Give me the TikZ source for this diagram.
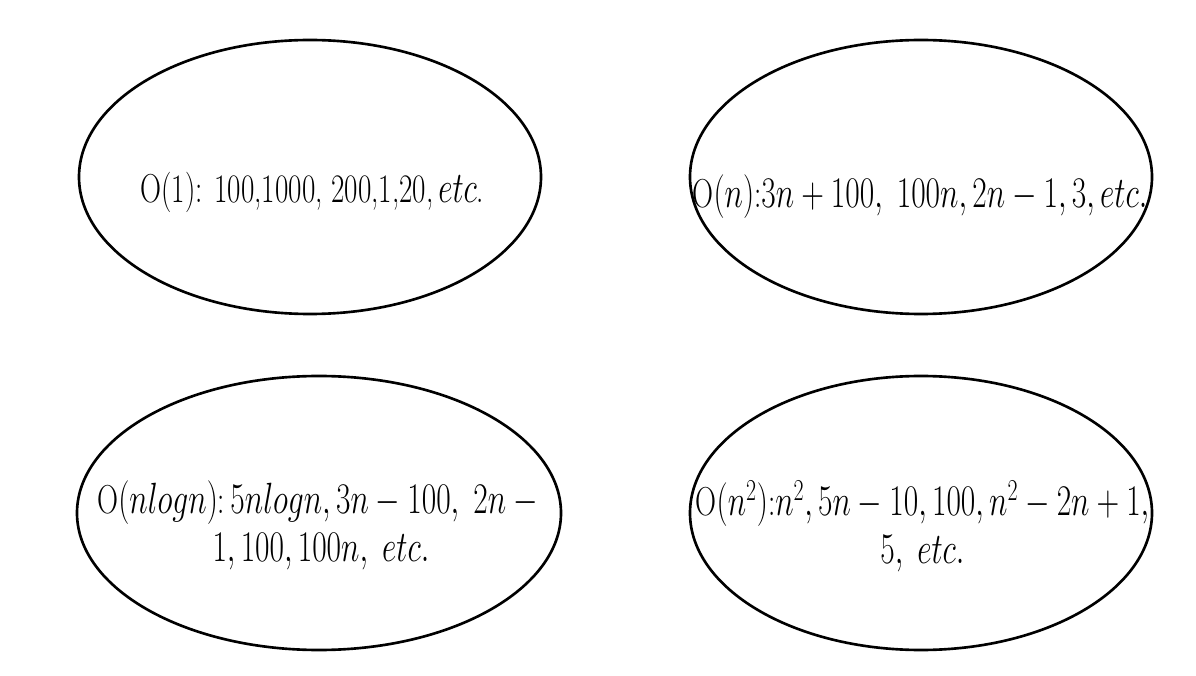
\documentclass[tikz,border=0pt]{standalone}
\usepackage{graphicx}
\usetikzlibrary{shapes.geometric}

\newcommand{\narrow}[1]{\scalebox{0.72}[1]{#1}}

\begin{document}
\begin{tikzpicture}[
            oval/.style={
                ellipse,
                draw,
                line width=1.5pt,
                minimum width=9.24cm,
                minimum height=5.48cm,
                inner sep=0pt
            },
            lbl/.style={
                font=\fontsize{23}{27}\selectfont,
                inner sep=0pt
            }
        ]

            \useasboundingbox (0, 0) rectangle (23.92, 13.5);

            \node[oval] (o1) at (6.2, 9.96) {};
            \node[oval] (o2) at (18.42, 9.96) {};
            \node[oval, minimum width=9.68cm] (o3) at (6.38, 3.24) {};
            \node[oval] (o4) at (18.42, 3.24) {};

            \node[lbl] (t1) at (6.25, 9.66)
                {\narrow{O(1): 100,1000, 200,1,20,\,$etc$.}};
            \node[lbl] (t2) at (18.4, 9.56)
                {\narrow{O$(n)$:$3n + 100,\ 100n, 2n - 1, 3, etc.$}};
            \node[lbl] (t3) at (6.42, 2.94)
                {\narrow{\begin{tabular}{@{}c@{}}
                    O$(nlogn)$:$\,5nlogn, 3n - 100,\ 2n -{}$\\
                    $1, 100, 100n,\ etc.$
                \end{tabular}}};
            \node[lbl] (t4) at (18.45, 2.92)
                {\narrow{\begin{tabular}{@{}c@{}}
                    O$(n^2)$:$n^2, 5n - 10, 100, n^2 - 2n + 1,$\\
                    $5,\ etc.$
                \end{tabular}}};

        \end{tikzpicture}
\end{document}
